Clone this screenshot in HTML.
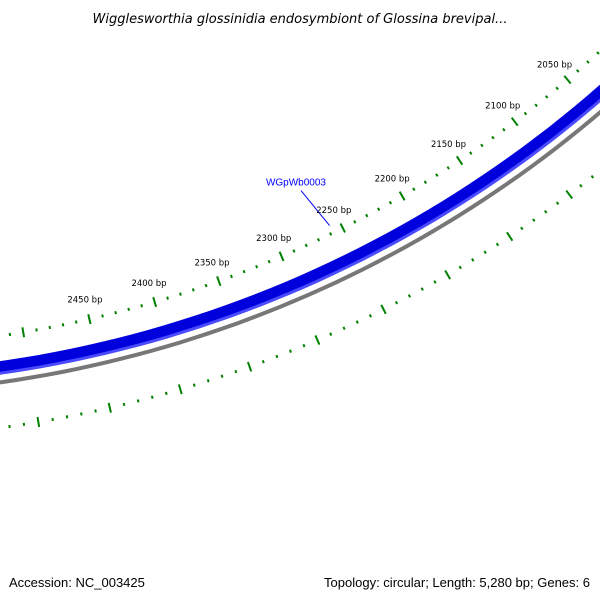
<!DOCTYPE html>
<html><head><meta charset="utf-8"><style>
html,body{margin:0;padding:0;background:#fff;}
svg{display:block;font-family:"Liberation Sans",sans-serif;}
</style></head><body>
<svg id="map" width="600" height="600" viewBox="0 0 600 600">
<text x="300" y="23" text-anchor="middle" font-size="13" font-style="italic" fill="#000" style="font-family:'DejaVu Sans',sans-serif">Wigglesworthia glossinidia endosymbiont of Glossina brevipal...</text>
<g id="plot"></g>
<text x="9" y="587" font-size="13" fill="#000">Accession: NC_003425</text>
<text x="590" y="587" text-anchor="end" font-size="13" fill="#000">Topology: circular; Length: 5,280 bp; Genes: 6</text>
</svg>
<script>
const seqLength = [5280];
const tickPositions = [1850,1860,1870,1880,1890,1900,1910,1920,1930,1940,1950,1960,1970,1980,1990,2000,2010,2020,2030,2040,2050,2060,2070,2080,2090,2100,2110,2120,2130,2140,2150,2160,2170,2180,2190,2200,2210,2220,2230,2240,2250,2260,2270,2280,2290,2300,2310,2320,2330,2340,2350,2360,2370,2380,2390,2400,2410,2420,2430,2440,2450,2460,2470,2480,2490,2500,2510,2520,2530,2540,2550,2560,2570,2580,2590,2600,2610,2620,2630,2640,2650];
const majorLabels = [2050,2100,2150,2200,2250,2300,2350,2400,2450];
const geneNames = ["WGpWb0003"];
const geneStart = [1500];
const geneEnd = [2900];
const geneLabelBp = [2258];

const NS="http://www.w3.org/2000/svg";
const cx=-165, cy=-786, refBp=2250, refAng=63.4;
function ang(bp){return (refAng+(bp-refBp)*360/seqLength[0])*Math.PI/180;}
function pt(bp,r){const a=ang(bp);return [cx+r*Math.cos(a),cy+r*Math.sin(a)];}
function arcPath(b1,b2,r){
  let d="";const n=120;
  for(let i=0;i<=n;i++){const p=pt(b1+(b2-b1)*i/n,r);d+=(i?"L":"M")+p[0].toFixed(1)+" "+p[1].toFixed(1);}
  return d;
}
const g=document.getElementById("plot");
function mk(tag,attrs){const e=document.createElementNS(NS,tag);for(const k in attrs)e.setAttribute(k,attrs[k]);g.appendChild(e);return e;}

let bb=mk("path",{d:arcPath(1600,2900,1180),fill:"none",stroke:"#777",'stroke-width':4});



geneNames.forEach((nm,i)=>{
  let e=mk("path",{d:arcPath(geneStart[i],geneEnd[i],1165),fill:"none",stroke:"#0000dd",'stroke-width':12});
  
  
  let e2=mk("path",{d:arcPath(geneStart[i],geneEnd[i],1171),fill:"none",stroke:"#4a4aff",'stroke-width':3});
  
  
  const p1=pt(geneLabelBp[i],1126), p2=pt(geneLabelBp[i]+8,1082);
  let ln=mk("line",{x1:p1[0],y1:p1[1],x2:p2[0],y2:p2[1],stroke:"#0000ff",'stroke-width':1});
  
  
  let t=mk("text",{x:p2[0]-5,y:p2[1]-5,'text-anchor':'middle','font-size':10,fill:"#0000ff"});
  t.textContent=nm;
  
  
});

[[1134,true],[1225,false]].forEach(([r,labels])=>{
  tickPositions.forEach(bp=>{
    const major=bp%50===0;
    const h=major?5:1.5;
    const a=pt(bp,r-h),b=pt(bp,r+h);
    let t=mk("line",{x1:a[0],y1:a[1],x2:b[0],y2:b[1],stroke:"#008000",'stroke-width':2});
    
    
  });
  if(labels){
    majorLabels.forEach(bp=>{
      const p=pt(bp,1114);
      let t=mk("text",{x:p[0],y:p[1]+3,'text-anchor':'middle','font-size':8.5,fill:"#000",style:"font-family:'DejaVu Sans',sans-serif"});
      t.textContent=bp+" bp";
      
      
    });
  }
});
</script>
</body></html>
